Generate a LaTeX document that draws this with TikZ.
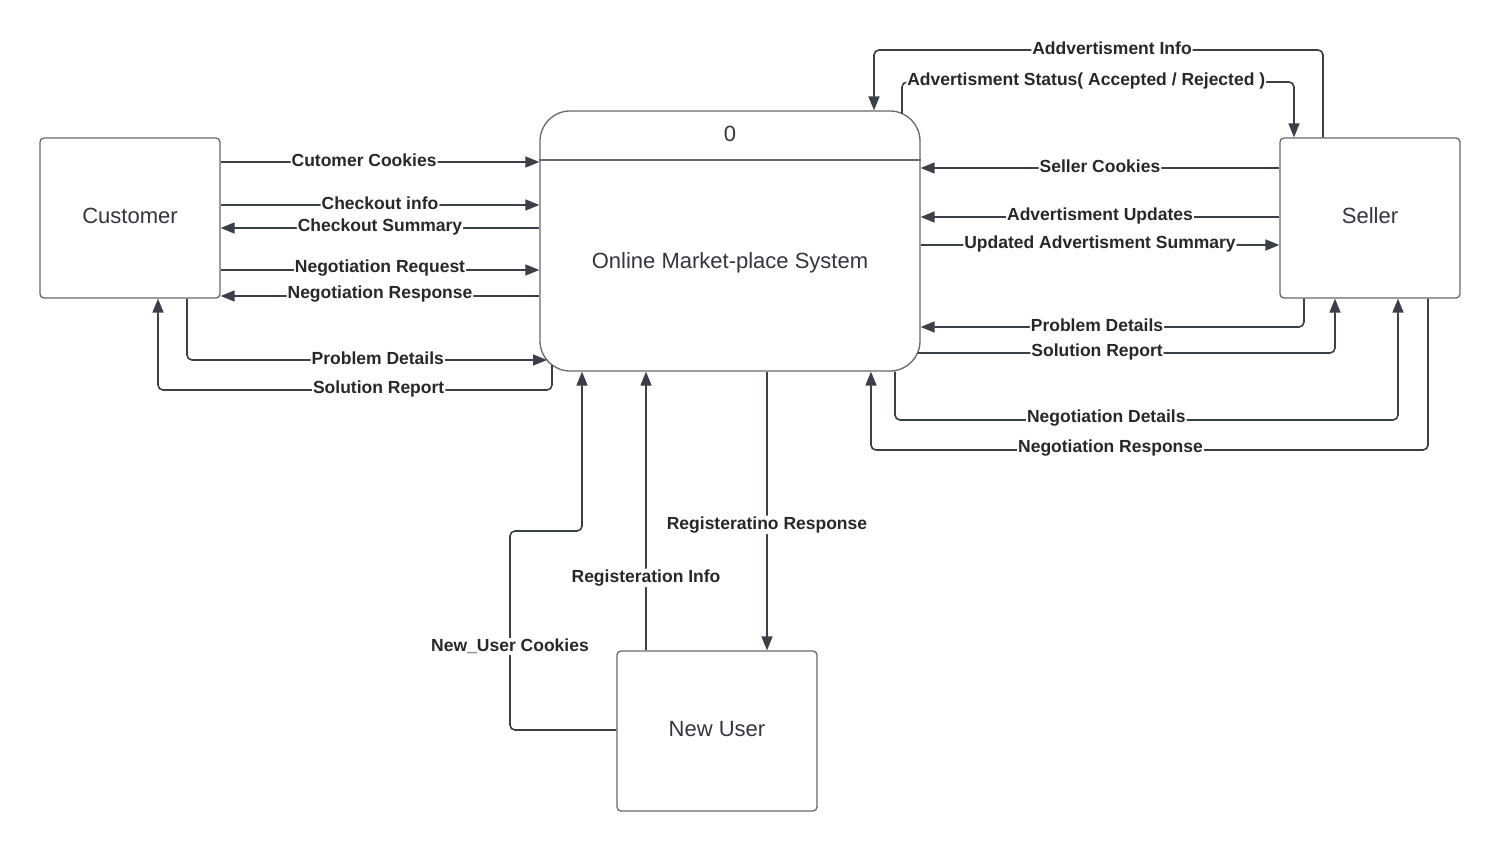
\documentclass[tikz,border=0pt]{standalone}
\usepackage{fontspec}
\setmainfont{Liberation Sans}
\usetikzlibrary{arrows.meta}
\definecolor{flowcol}{RGB}{58,63,72}
\definecolor{boxcol}{RGB}{105,105,108}
\definecolor{txtcol}{RGB}{50,54,62}
\definecolor{lblcol}{RGB}{40,40,42}
\begin{document}
\begin{tikzpicture}[x=1pt,y=-1pt,
  entity/.style={draw=boxcol,line width=1.3pt,rounded corners=4pt,inner sep=0pt,
    minimum width=180pt,minimum height=160pt,text=txtcol,font=\fontsize{22}{26}\selectfont},
  procbox/.style={draw=boxcol,line width=1.3pt,rounded corners=30pt,inner sep=0pt,
    minimum width=380pt,minimum height=260pt},
  flow/.style={draw=flowcol,line width=1.6pt,rounded corners=5pt,
    -{Triangle[length=14pt,width=11pt]}},
  lbl/.style={fill=white,inner sep=1pt,yshift=1.5pt,text=lblcol,font=\bfseries\fontsize{17.5}{20}\selectfont},
  vlbl/.style={fill=white,inner sep=1pt,text=lblcol,font=\bfseries\fontsize{17.5}{20}\selectfont},
  title/.style={text=txtcol,font=\fontsize{22}{26}\selectfont}
]
\fill[white] (0,0) rectangle (1500,851);
\useasboundingbox (0,0) rectangle (1500,851);

% entities
\node[entity] (cust) at (130,218) {};
\node[title] (custt) at (130,216) {Customer};
\node[entity] (seller) at (1370,218) {};
\node[title] (sellert) at (1370,216) {Seller};
\node[entity,minimum width=200pt] (newu) at (717,731) {};
\node[title] (newut) at (717,729) {New User};

% process
\node[procbox] (proc) at (730,241) {};
\draw[boxcol,line width=1.3pt] (proc.west |- 0,160) -- (proc.east |- 0,160);
\node[title] (pid) at (730,134) {0};
\node[title] (pname) at (730,263) {Online Market-place System};

% corner coordinates
\coordinate (pdl) at (547,360);
\coordinate (srl) at (552,365);
\coordinate (ast) at (902,113.5);
\coordinate (srr) at (917.5,353);

% customer flows
\draw[flow] (cust.east |- 0,162) -- node[lbl,pos=0.45]{Cutomer Cookies} (proc.west |- 0,162);
\draw[flow] (cust.east |- 0,205) -- node[lbl,pos=0.5]{Checkout info} (proc.west |- 0,205);
\draw[flow] (proc.west |- 0,228) -- node[lbl,pos=0.5]{Checkout Summary} (cust.east |- 0,228);
\draw[flow] (cust.east |- 0,270) -- node[lbl,pos=0.5]{Negotiation Request} (proc.west |- 0,270);
\draw[flow] (proc.west |- 0,296) -- node[lbl,pos=0.5]{Negotiation Response} (cust.east |- 0,296);
\draw[flow] (cust.south -| 187,0) -- (187,360) -- node[lbl,pos=0.53]{Problem Details} (pdl);
\draw[flow] (srl) -- (552,390) -- node[lbl,pos=0.44]{Solution Report} (158,390) -- (cust.south -| 158,0);

% seller flows
\draw[flow] (seller.north -| 1323,0) -- (1323,50) -- node[lbl,pos=0.47]{Addvertisment Info} (874,50) -- (proc.north -| 874,0);
\draw[flow] (ast) -- (902,82) -- node[lbl,pos=0.47]{Advertisment Status( Accepted / Rejected )} (1294,82) -- (seller.north -| 1294,0);
\draw[flow] (seller.west |- 0,168) -- node[lbl,pos=0.5]{Seller Cookies} (proc.east |- 0,168);
\draw[flow] (seller.west |- 0,217) -- node[lbl,pos=0.5]{Advertisment Updates} (proc.east |- 0,217);
\draw[flow] (proc.east |- 0,245) -- node[lbl,pos=0.5]{Updated Advertisment Summary} (seller.west |- 0,245);
\draw[flow] (seller.south -| 1304,0) -- (1304,327) -- node[lbl,pos=0.54]{Problem Details} (proc.east |- 0,327);
\draw[flow] (srr) -- node[lbl,pos=0.43]{Solution Report} (1335,353) -- (seller.south -| 1335,0);
\draw[flow] (proc.south -| 895,0) -- (895,420) -- node[lbl,pos=0.42]{Negotiation Details} (1398,420) -- (seller.south -| 1398,0);
\draw[flow] (seller.south -| 1428,0) -- (1428,450) -- node[lbl,pos=0.57]{Negotiation Response} (871,450) -- (proc.south -| 871,0);

% new user flows
\draw[flow] (newu.west |- 0,730) -- (510,730) -- node[vlbl,pos=0.42]{New\_User Cookies} (510,531) -- (582,531) -- (proc.south -| 582,0);
\draw[flow] (newu.north -| 646,0) -- node[vlbl,pos=0.26]{Registeration Info} (proc.south -| 646,0);
\draw[flow] (proc.south -| 767,0) -- node[vlbl,pos=0.55]{Registeratino Response} (newu.north -| 767,0);
\end{tikzpicture}
\end{document}
